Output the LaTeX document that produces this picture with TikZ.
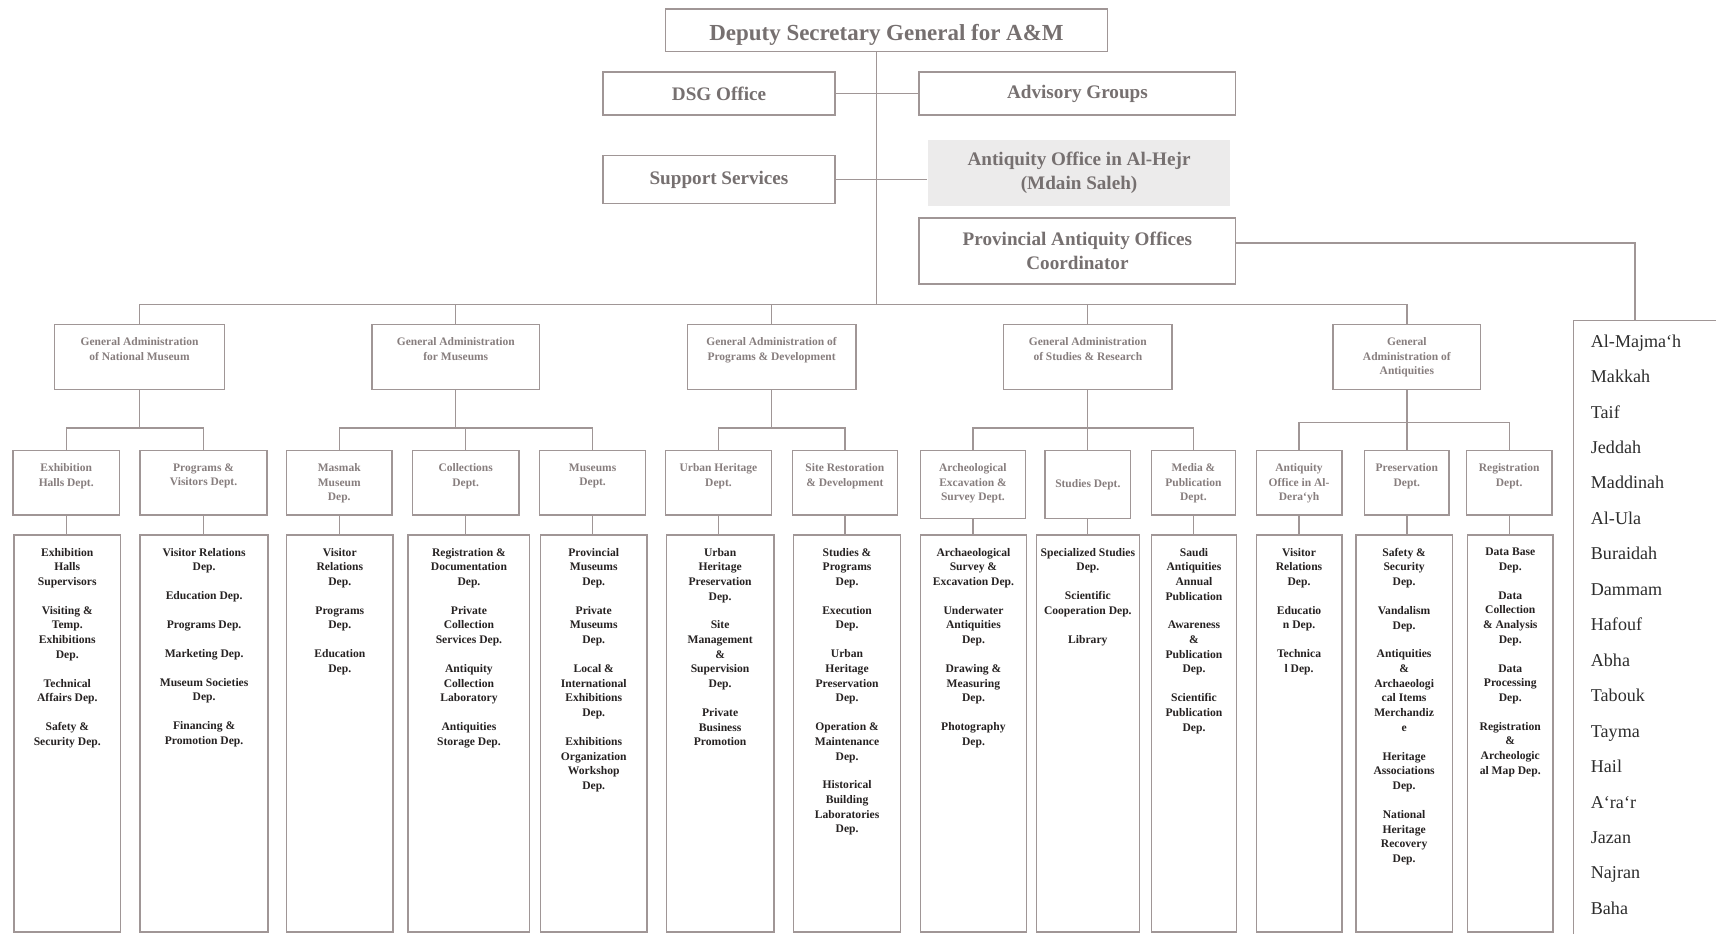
\documentclass[tikz,border=0pt]{standalone}
\usepackage{fontspec}
\setmainfont{Liberation Serif}
\usetikzlibrary{positioning}

\definecolor{boxline}{RGB}{160,150,150}
\definecolor{headtext}{RGB}{118,112,112}
\definecolor{subtext}{RGB}{135,126,126}
\definecolor{deptext}{RGB}{38,34,34}
\definecolor{hejrfill}{RGB}{236,235,235}
\definecolor{listtext}{RGB}{45,45,45}

\newcommand{\tbx}[3]{\parbox[t][#2][t]{#1}{\centering\vspace*{12pt}#3}}

\begin{document}
\begin{tikzpicture}[x=1pt,y=-1pt,
    head/.style={draw=boxline,line width=1.6pt,text=headtext,font=\fontsize{17.5}{22}\selectfont\bfseries,align=center,inner sep=0pt},
    gabox/.style={draw=boxline,line width=1.4pt,text=subtext,font=\fontsize{10.5}{13.2}\selectfont\bfseries,inner sep=0pt,anchor=north},
    colbox/.style={draw=boxline,line width=1.4pt,text=deptext,font=\fontsize{10.6}{13.4}\selectfont\bfseries,inner sep=0pt,anchor=north},
    link/.style={draw=boxline,line width=1.2pt}]
    \useasboundingbox (0,0) rectangle (1568,853);
    \fill[white] (0,0) rectangle (1568,853);

    \node[head,minimum width=404,minimum height=39,text height=19pt,text depth=0pt,font=\fontsize{21}{24}\selectfont\bfseries] (dsg) at (810,27.5) {Deputy Secretary General for A\&M};
    \node[head,minimum width=212,minimum height=39] (office) at (657,85.5) {DSG Office};
    \node[head,minimum width=289,minimum height=39] (advisory) at (984.5,85.5) {Advisory Groups};
    \node[head,minimum width=212,minimum height=44] (support) at (657,164) {Support Services};
    \node[head,draw=none,fill=hejrfill,minimum width=276,minimum height=60] (hejr) at (986,158) {Antiquity Office in Al-Hejr\\(Mdain Saleh)};
    \node[head,minimum width=289,minimum height=60] (coord) at (984.5,229.5) {Provincial Antiquity Offices\\Coordinator};

    \node[draw=boxline,line width=1.4pt,anchor=north west,inner sep=0pt,text=listtext,font=\fontsize{16.5}{32.4}\selectfont] (list) at (1437,292)
      {\hspace*{16pt}\parbox[t][620pt][t]{180pt}{\vspace*{13pt}Al-Majma`h\\Makkah\\Taif\\Jeddah\\Maddinah\\Al-Ula\\Buraidah\\Dammam\\Hafouf\\Abha\\Tabouk\\Tayma\\Hail\\A`ra`r\\Jazan\\Najran\\Baha}};

    \node[gabox] (ga1) at (127.5,296) {\tbx{155pt}{59pt}{General Administration\\of National Museum}};
    \node[gabox] (ga2) at (416.5,296) {\tbx{153pt}{59pt}{General Administration\\for Museums}};
    \node[gabox] (ga3) at (705,296) {\tbx{154pt}{59pt}{General Administration of\\Programs \& Development}};
    \node[gabox] (ga4) at (994,296) {\tbx{154pt}{59pt}{General Administration\\of Studies \& Research}};
    \node[gabox] (ga5) at (1285.5,296) {\tbx{135pt}{59pt}{General\\Administration of\\Antiquities}};

    \node[gabox] (d11) at (60.5,411) {\tbx{97pt}{59pt}{Exhibition\\Halls Dept.}};
    \node[gabox] (d12) at (186,411) {\tbx{116pt}{59pt}{Programs \&\\Visitors Dept.}};
    \node[gabox] (d21) at (310,411) {\tbx{96pt}{59pt}{Masmak\\Museum\\Dep.}};
    \node[gabox] (d22) at (425.5,411) {\tbx{97pt}{59pt}{Collections\\Dept.}};
    \node[gabox] (d23) at (541.5,411) {\tbx{97pt}{59pt}{Museums\\Dept.}};
    \node[gabox] (d31) at (656.5,411) {\tbx{97pt}{59pt}{Urban Heritage\\Dept.}};
    \node[gabox] (d32) at (772,411) {\tbx{96pt}{59pt}{Site Restoration\\\& Development}};
    \node[gabox] (d41) at (889,411) {\tbx{96pt}{62pt}{Archeological\\Excavation \&\\Survey Dept.}};
    \node[gabox] (d42) at (994,411) {\parbox[c][62pt][c]{78pt}{\centering Studies Dept.}};
    \node[gabox] (d43) at (1090.5,411) {\tbx{77pt}{59pt}{Media \&\\Publication\\Dept.}};
    \node[gabox] (d51) at (1187,411) {\tbx{78pt}{59pt}{Antiquity\\Office in Al-\\Dera`yh}};
    \node[gabox] (d52) at (1285.5,411) {\tbx{77pt}{59pt}{Preservation\\Dept.}};
    \node[gabox] (d53) at (1379,411) {\tbx{78pt}{59pt}{Registration\\Dept.}};

    \node[colbox] (c11) at (61.5,488) {\tbx{97pt}{363pt}{Exhibition\\Halls\\Supervisors\\[13pt]Visiting \&\\Temp.\\Exhibitions\\Dep.\\[13pt]Technical\\Affairs Dep.\\[13pt]Safety \&\\Security Dep.}};
    \node[colbox] (c12) at (186.5,488) {\tbx{117pt}{363pt}{Visitor Relations\\Dep.\\[13pt]Education Dep.\\[13pt]Programs Dep.\\[13pt]Marketing Dep.\\[13pt]Museum Societies\\Dep.\\[13pt]Financing \&\\Promotion Dep.}};
    \node[colbox] (c21) at (310.5,488) {\tbx{97pt}{363pt}{Visitor\\Relations\\Dep.\\[13pt]Programs\\Dep.\\[13pt]Education\\Dep.}};
    \node[colbox] (c22) at (428.5,488) {\tbx{111pt}{363pt}{Registration \&\\Documentation\\Dep.\\[13pt]Private\\Collection\\Services Dep.\\[13pt]Antiquity\\Collection\\Laboratory\\[13pt]Antiquities\\Storage Dep.}};
    \node[colbox] (c23) at (542.5,488) {\tbx{97pt}{363pt}{Provincial\\Museums\\Dep.\\[13pt]Private\\Museums\\Dep.\\[13pt]Local \&\\International\\Exhibitions\\Dep.\\[13pt]Exhibitions\\Organization\\Workshop\\Dep.}};
    \node[colbox] (c31) at (658,488) {\tbx{98pt}{363pt}{Urban\\Heritage\\Preservation\\Dep.\\[13pt]Site\\Management\\\&\\Supervision\\Dep.\\[13pt]Private\\Business\\Promotion}};
    \node[colbox] (c32) at (774,488) {\tbx{98pt}{363pt}{Studies \&\\Programs\\Dep.\\[13pt]Execution\\Dep.\\[13pt]Urban\\Heritage\\Preservation\\Dep.\\[13pt]Operation \&\\Maintenance\\Dep.\\[13pt]Historical\\Building\\Laboratories\\Dep.}};
    \node[colbox] (c41) at (889.5,488) {\tbx{97pt}{363pt}{Archaeological\\Survey \&\\Excavation Dep.\\[13pt]Underwater\\Antiquities\\Dep.\\[13pt]Drawing \&\\Measuring\\Dep.\\[13pt]Photography\\Dep.}};
    \node[colbox] (c42) at (994,488) {\tbx{94pt}{363pt}{Specialized Studies\\Dep.\\[13pt]Scientific\\Cooperation Dep.\\[13pt]Library}};
    \node[colbox] (c43) at (1091,488) {\tbx{78pt}{363pt}{Saudi\\Antiquities\\Annual\\Publication\\[13pt]Awareness\\\&\\Publication\\Dep.\\[13pt]Scientific\\Publication\\Dep.}};
    \node[colbox] (c51) at (1187,488) {\tbx{78pt}{363pt}{Visitor\\Relations\\Dep.\\[13pt]Educatio\\n Dep.\\[13pt]Technica\\l Dep.}};
    \node[colbox] (c52) at (1283,488) {\tbx{88pt}{363pt}{Safety \&\\Security\\Dep.\\[13pt]Vandalism\\Dep.\\[13pt]Antiquities\\\&\\Archaeologi\\cal Items\\Merchandiz\\e\\[13pt]Heritage\\Associations\\Dep.\\[13pt]National\\Heritage\\Recovery\\Dep.}};
    \node[colbox] (c53) at (1380,488) {\tbx{78pt}{363pt}{Data Base\\Dep.\\[13pt]Data\\Collection\\\& Analysis\\Dep.\\[13pt]Data\\Processing\\Dep.\\[13pt]Registration\\\&\\Archeologic\\al Map Dep.}};

    \coordinate (spine) at (801,278);
    \coordinate (prov) at (1494,222);
    \draw[link] (dsg.south -| spine) -- (spine);
    \draw[link] (office) -- (advisory);
    \draw[link] (support.east) -- (support.east -| hejr.west);
    \draw[link] (coord.east |- prov) -- (prov) -- (prov |- list.north);

    \draw[link] (ga1.north) |- (spine) -| (ga5.north);
    \draw[link] (ga2.north) -- (ga2.north |- spine);
    \draw[link] (ga3.north) -- (ga3.north |- spine);
    \draw[link] (ga4.north) -- (ga4.north |- spine);

    \coordinate (b1) at (127.5,391);
    \coordinate (b2) at (416.5,391);
    \coordinate (b3) at (705,391);
    \coordinate (b4) at (994,391);
    \coordinate (b5) at (1285.5,386);
    \draw[link] (ga1) -- (b1);
    \draw[link] (d11.north) |- (b1) -| (d12.north);
    \draw[link] (ga2) -- (b2);
    \draw[link] (d21.north) |- (b2) -| (d23.north);
    \draw[link] (d22.north) -- (d22.north |- b2);
    \draw[link] (ga3) -- (b3);
    \draw[link] (d31.north) |- (b3) -| (d32.north);
    \draw[link] (ga4) -- (d42);
    \draw[link] (d41.north) |- (b4) -| (d43.north);
    \draw[link] (ga5) -- (d52);
    \draw[link] (d51.north) |- (b5) -| (d53.north);

    \draw[link] (d11.south) -- (d11.south |- c11.north);
    \draw[link] (d12.south) -- (d12.south |- c12.north);
    \draw[link] (d21.south) -- (d21.south |- c21.north);
    \draw[link] (d22.south) -- (d22.south |- c22.north);
    \draw[link] (d23.south) -- (d23.south |- c23.north);
    \draw[link] (d31.south) -- (d31.south |- c31.north);
    \draw[link] (d32.south) -- (d32.south |- c32.north);
    \draw[link] (d41.south) -- (d41.south |- c41.north);
    \draw[link] (d42.south) -- (d42.south |- c42.north);
    \draw[link] (d43.south) -- (d43.south |- c43.north);
    \draw[link] (d51.south) -- (d51.south |- c51.north);
    \draw[link] (d52.south) -- (d52.south |- c52.north);
    \draw[link] (d53.south) -- (d53.south |- c53.north);
\end{tikzpicture}
\end{document}
